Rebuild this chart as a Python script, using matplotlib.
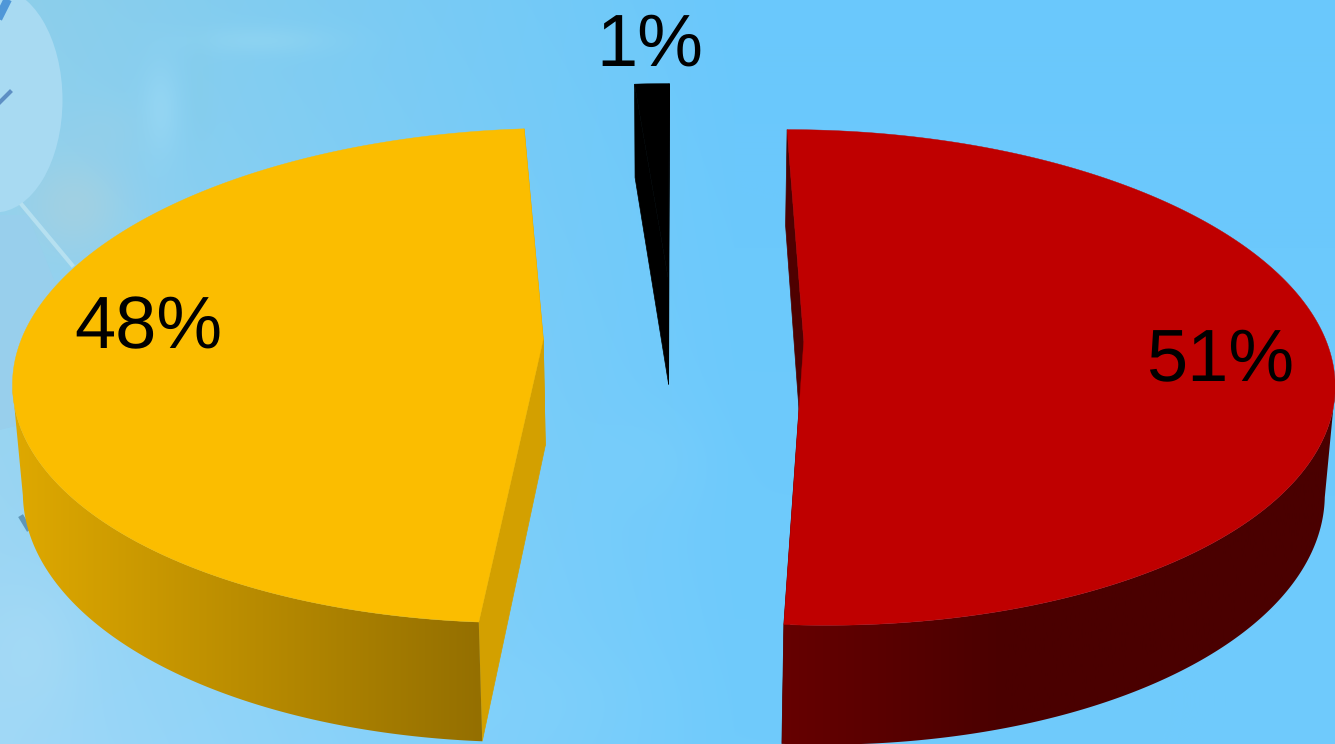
#!/usr/bin/env python3
"""Exploded 3D-style pie on a pale blue photo backdrop, drawn from a small perspective model."""
import numpy as np
import matplotlib
matplotlib.use("Agg")
import matplotlib.pyplot as plt
from matplotlib.patches import Polygon, Ellipse

plt.rcParams["text.hinting"] = "no_hinting"
plt.rcParams["text.hinting_factor"] = 1

W, H = 1335, 744
# clockwise from 12 o'clock
SHARES = [51.1, 47.65, 1.25]
LABELS = ["51%", "48%", "1%"]
TOP_COL = ["#bf0000", "#fbbd00", "#000000"]
CUT_COL = ["#4f0000", "#d3a000", "#000000"]
RIM_L = ["#660000", "#dfa900", "#000000"]
RIM_R = ["#4a0000", "#946f00", "#000000"]
RIM_SPAN = [(101, None), (None, 259), None]   # outer wall up to the silhouette, degrees
LABEL_POS = [(1220, 381), (148, 348), (650, 66)]  # centre x, baseline y

# camera
CX, CY = 673.5, 339
FX, FY = 521.8, 241.9
PERSP, DEPTH, THICK = 0.1466, 0.0155, 108
EXPLODE = 0.2495


def project(x, y, low=False):
    w = 1 + PERSP * y + (DEPTH if low else 0)
    return CX + FX * x / w, CY - (FY * y - (THICK if low else 0)) / w


def backdrop():
    yy, xx = np.mgrid[0:H, 0:W]
    t = (xx / W)[..., None]
    s = (yy / H)[..., None]
    left = np.array([142, 207, 234]) * (1 - s) + np.array([160, 216, 247]) * s
    right = np.array([106, 200, 252]) * (1 - s) + np.array([112, 203, 252]) * s
    img = left + (right - left) * np.clip(t / 0.55, 0, 1)

    def blob(cx, cy, sx, sy, col, a):
        g = np.exp(-((xx - cx) / sx) ** 2 - ((yy - cy) / sy) ** 2)[..., None] * a
        return img * (1 - g) + np.array(col) * g

    # blurry clothes and folds of the photo on the left
    for cx, cy, sx, sy, col, a in [
        (75, 205, 50, 50, (165, 208, 224), 0.8),
        (160, 110, 18, 45, (152, 216, 245), 0.7),
        (105, 130, 40, 30, (150, 208, 232), 0.5),
        (260, 40, 70, 14, (150, 216, 242), 0.5),
        (200, 90, 14, 60, (132, 204, 232), 0.4),
        (30, 650, 50, 70, (170, 220, 245), 0.5),
        (500, 700, 120, 50, (130, 210, 250), 0.4),
        (650, 460, 60, 50, (125, 208, 250), 0.3),
    ]:
        img = blob(cx, cy, sx, sy, col, a)
    return np.clip(img, 0, 255).astype(np.uint8)


fig = plt.figure(figsize=(W / 100, H / 100), dpi=100)
ax = fig.add_axes([0, 0, 1, 1])
ax.imshow(backdrop(), extent=(0, W, H, 0), aspect="auto", zorder=0)

# figure on the left edge of the photo
ax.add_patch(Ellipse((-5, 100), 135, 225, color="#a8daf2", lw=0, zorder=1))
ax.add_patch(Polygon([(0, 215), (28, 215), (62, 300), (40, 420), (0, 430)], closed=True,
                     color="#98cfec", lw=0, zorder=1))
ax.plot([22, 72], [205, 265], color="#b6e0f0", lw=3, zorder=1)
ax.plot([0, 10], [102, 92], color="#5d8fc4", lw=3, zorder=1)
ax.plot([0, 6], [15, 3], color="#4f97d8", lw=6, zorder=1)
ax.plot([22, 28], [518, 528], color="#5f97b8", lw=4, zorder=1)

edges = np.cumsum([0] + SHARES) / sum(SHARES) * 2 * np.pi
centres = []
for a0, a1 in zip(edges[:-1], edges[1:]):
    mid = (a0 + a1) / 2
    centres.append((EXPLODE * np.sin(mid), EXPLODE * np.cos(mid)))

# walls first, top faces over them
for i in range(len(SHARES)):
    a0, a1 = edges[i], edges[i + 1]
    ox, oy = centres[i]
    apex_t = project(ox, oy)
    apex_b = project(ox, oy, low=True)

    # radial cut faces
    for a in (a0, a1):
        ex, ey = ox + np.sin(a), oy + np.cos(a)
        ax.add_patch(Polygon([apex_t, project(ex, ey), project(ex, ey, low=True), apex_b],
                             closed=True, facecolor=CUT_COL[i], edgecolor=CUT_COL[i],
                             lw=0.5, zorder=2))

    # outer wall with a left to right shade
    if RIM_SPAN[i] is not None:
        lo, hi = RIM_SPAN[i]
        lo = np.degrees(a0) if lo is None else lo
        hi = np.degrees(a1) if hi is None else hi
        t = np.radians(np.linspace(lo, hi, 300))
        xt, yt = project(ox + np.sin(t), oy + np.cos(t))
        xb, yb = project(ox + np.sin(t), oy + np.cos(t), low=True)
        poly = Polygon(np.r_[np.c_[xt, yt], np.c_[xb, yb][::-1]], closed=True, lw=0,
                       facecolor="none", zorder=3)
        ax.add_patch(poly)
        x0, x1 = min(xt.min(), xb.min()), max(xt.max(), xb.max())
        c0 = np.array(matplotlib.colors.to_rgb(RIM_L[i]))
        c1 = np.array(matplotlib.colors.to_rgb(RIM_R[i]))
        if i == 0:   # red goes dark quickly, then stays flat
            ramp = np.clip(np.linspace(0, 1, 256) * 2.5, 0, 1)
        else:
            ramp = np.linspace(0, 1, 256)
        grad = (c0 + (c1 - c0) * ramp[:, None])[None, :, :]
        im = ax.imshow(grad, extent=(x0, x1, H, 0), aspect="auto", zorder=3)
        im.set_clip_path(poly)

for i in range(len(SHARES)):
    ox, oy = centres[i]
    th = np.linspace(edges[i], edges[i + 1], 400)
    xs, ys = project(ox + np.sin(th), oy + np.cos(th))
    verts = np.r_[[project(ox, oy)], np.c_[xs, ys]]
    ax.add_patch(Polygon(verts, closed=True, facecolor=TOP_COL[i], edgecolor=TOP_COL[i],
                         lw=0.3, zorder=4))

for (x, y), lab in zip(LABEL_POS, LABELS):
    ax.text(x, y, lab, ha="center", va="baseline", fontsize=53,
            family="Liberation Sans", color="black", zorder=5)

ax.set_xlim(0, W)
ax.set_ylim(H, 0)
ax.axis("off")
fig.savefig("out.png", dpi=100)
